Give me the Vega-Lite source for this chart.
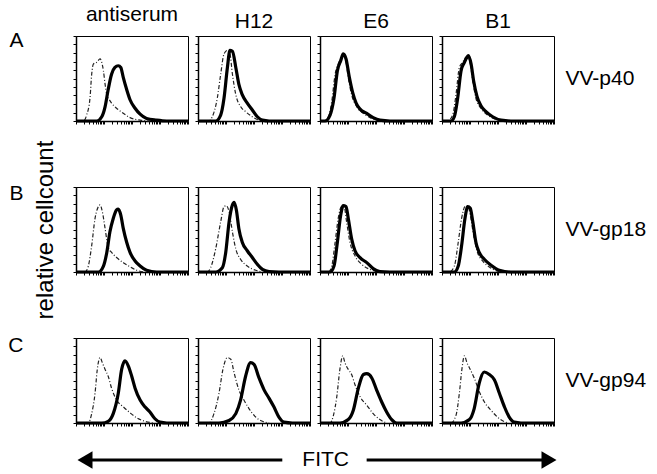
{
"$schema": "https://vega.github.io/schema/vega-lite/v6.json",
"padding": {"left": 7, "top": 3, "right": 5, "bottom": 5},
"config": {
  "font": "Liberation Sans",
  "view": {"stroke": "black", "strokeWidth": 1},
  "axis": {"domainColor": "black", "domainWidth": 1.5, "tickColor": "black", "tickWidth": 1, "grid": false, "labels": false, "titleFontWeight": "normal", "titleColor": "black", "titleFontSize": 21, "minExtent": 0},
  "title": {"fontSize": 21, "fontWeight": "normal", "color": "black", "offset": 4}
},
"data": {"values": [
{"r":"A","c":"antiserum","s":"control","x":0,"y":0},{"r":"A","c":"antiserum","s":"control","x":0.26,"y":0},{"r":"A","c":"antiserum","s":"control","x":0.38,"y":7},{"r":"A","c":"antiserum","s":"control","x":0.5,"y":27},{"r":"A","c":"antiserum","s":"control","x":0.56,"y":55},{"r":"A","c":"antiserum","s":"control","x":0.62,"y":67},{"r":"A","c":"antiserum","s":"control","x":0.74,"y":69},{"r":"A","c":"antiserum","s":"control","x":0.86,"y":73},{"r":"A","c":"antiserum","s":"control","x":0.92,"y":69},{"r":"A","c":"antiserum","s":"control","x":0.98,"y":59},{"r":"A","c":"antiserum","s":"control","x":1.04,"y":43},{"r":"A","c":"antiserum","s":"control","x":1.1,"y":31},{"r":"A","c":"antiserum","s":"control","x":1.19,"y":25},{"r":"A","c":"antiserum","s":"control","x":1.27,"y":21},{"r":"A","c":"antiserum","s":"control","x":1.45,"y":15},{"r":"A","c":"antiserum","s":"control","x":1.69,"y":9},{"r":"A","c":"antiserum","s":"control","x":1.93,"y":4},{"r":"A","c":"antiserum","s":"control","x":2.29,"y":1},{"r":"A","c":"antiserum","s":"control","x":2.64,"y":0},
{"r":"A","c":"antiserum","s":"sample","x":0,"y":0},{"r":"A","c":"antiserum","s":"sample","x":0.74,"y":0},{"r":"A","c":"antiserum","s":"sample","x":0.92,"y":5},{"r":"A","c":"antiserum","s":"sample","x":1.04,"y":17},{"r":"A","c":"antiserum","s":"sample","x":1.15,"y":37},{"r":"A","c":"antiserum","s":"sample","x":1.27,"y":55},{"r":"A","c":"antiserum","s":"sample","x":1.39,"y":63},{"r":"A","c":"antiserum","s":"sample","x":1.51,"y":65},{"r":"A","c":"antiserum","s":"sample","x":1.6,"y":63},{"r":"A","c":"antiserum","s":"sample","x":1.69,"y":51},{"r":"A","c":"antiserum","s":"sample","x":1.81,"y":37},{"r":"A","c":"antiserum","s":"sample","x":1.93,"y":25},{"r":"A","c":"antiserum","s":"sample","x":2.11,"y":15},{"r":"A","c":"antiserum","s":"sample","x":2.29,"y":8},{"r":"A","c":"antiserum","s":"sample","x":2.52,"y":3},{"r":"A","c":"antiserum","s":"sample","x":2.88,"y":1},{"r":"A","c":"antiserum","s":"sample","x":3.24,"y":0},{"r":"A","c":"antiserum","s":"sample","x":4,"y":0},
{"r":"A","c":"H12","s":"control","x":0,"y":0},{"r":"A","c":"H12","s":"control","x":0.39,"y":0},{"r":"A","c":"H12","s":"control","x":0.51,"y":5},{"r":"A","c":"H12","s":"control","x":0.69,"y":27},{"r":"A","c":"H12","s":"control","x":0.81,"y":55},{"r":"A","c":"H12","s":"control","x":0.93,"y":79},{"r":"A","c":"H12","s":"control","x":1.05,"y":83},{"r":"A","c":"H12","s":"control","x":1.14,"y":79},{"r":"A","c":"H12","s":"control","x":1.23,"y":55},{"r":"A","c":"H12","s":"control","x":1.35,"y":31},{"r":"A","c":"H12","s":"control","x":1.52,"y":17},{"r":"A","c":"H12","s":"control","x":1.7,"y":11},{"r":"A","c":"H12","s":"control","x":1.94,"y":5},{"r":"A","c":"H12","s":"control","x":2.18,"y":1},{"r":"A","c":"H12","s":"control","x":2.42,"y":0},
{"r":"A","c":"H12","s":"sample","x":0,"y":0},{"r":"A","c":"H12","s":"sample","x":0.63,"y":0},{"r":"A","c":"H12","s":"sample","x":0.81,"y":7},{"r":"A","c":"H12","s":"sample","x":0.93,"y":27},{"r":"A","c":"H12","s":"sample","x":1.05,"y":63},{"r":"A","c":"H12","s":"sample","x":1.14,"y":83},{"r":"A","c":"H12","s":"sample","x":1.23,"y":82},{"r":"A","c":"H12","s":"sample","x":1.35,"y":63},{"r":"A","c":"H12","s":"sample","x":1.46,"y":43},{"r":"A","c":"H12","s":"sample","x":1.58,"y":31},{"r":"A","c":"H12","s":"sample","x":1.76,"y":21},{"r":"A","c":"H12","s":"sample","x":1.94,"y":13},{"r":"A","c":"H12","s":"sample","x":2.12,"y":5},{"r":"A","c":"H12","s":"sample","x":2.3,"y":1},{"r":"A","c":"H12","s":"sample","x":2.54,"y":0},{"r":"A","c":"H12","s":"sample","x":4,"y":0},
{"r":"A","c":"E6","s":"control","x":0,"y":0},{"r":"A","c":"E6","s":"control","x":0.12,"y":0},{"r":"A","c":"E6","s":"control","x":0.3,"y":5},{"r":"A","c":"E6","s":"control","x":0.42,"y":23},{"r":"A","c":"E6","s":"control","x":0.54,"y":55},{"r":"A","c":"E6","s":"control","x":0.65,"y":67},{"r":"A","c":"E6","s":"control","x":0.77,"y":75},{"r":"A","c":"E6","s":"control","x":0.83,"y":78},{"r":"A","c":"E6","s":"control","x":0.92,"y":71},{"r":"A","c":"E6","s":"control","x":1.01,"y":51},{"r":"A","c":"E6","s":"control","x":1.13,"y":31},{"r":"A","c":"E6","s":"control","x":1.31,"y":17},{"r":"A","c":"E6","s":"control","x":1.55,"y":9},{"r":"A","c":"E6","s":"control","x":1.85,"y":3},{"r":"A","c":"E6","s":"control","x":2.14,"y":0.4},{"r":"A","c":"E6","s":"control","x":2.38,"y":0},
{"r":"A","c":"E6","s":"sample","x":0,"y":0},{"r":"A","c":"E6","s":"sample","x":0.18,"y":0},{"r":"A","c":"E6","s":"sample","x":0.36,"y":7},{"r":"A","c":"E6","s":"sample","x":0.5,"y":27},{"r":"A","c":"E6","s":"sample","x":0.62,"y":59},{"r":"A","c":"E6","s":"sample","x":0.74,"y":71},{"r":"A","c":"E6","s":"sample","x":0.83,"y":79},{"r":"A","c":"E6","s":"sample","x":0.93,"y":73},{"r":"A","c":"E6","s":"sample","x":1.05,"y":51},{"r":"A","c":"E6","s":"sample","x":1.17,"y":33},{"r":"A","c":"E6","s":"sample","x":1.29,"y":21},{"r":"A","c":"E6","s":"sample","x":1.43,"y":14},{"r":"A","c":"E6","s":"sample","x":1.67,"y":9},{"r":"A","c":"E6","s":"sample","x":1.9,"y":4},{"r":"A","c":"E6","s":"sample","x":2.14,"y":1},{"r":"A","c":"E6","s":"sample","x":2.5,"y":0},{"r":"A","c":"E6","s":"sample","x":4,"y":0},
{"r":"A","c":"B1","s":"control","x":0,"y":0},{"r":"A","c":"B1","s":"control","x":0.2,"y":0},{"r":"A","c":"B1","s":"control","x":0.38,"y":7},{"r":"A","c":"B1","s":"control","x":0.5,"y":31},{"r":"A","c":"B1","s":"control","x":0.62,"y":63},{"r":"A","c":"B1","s":"control","x":0.74,"y":69},{"r":"A","c":"B1","s":"control","x":0.86,"y":75},{"r":"A","c":"B1","s":"control","x":0.94,"y":75},{"r":"A","c":"B1","s":"control","x":1.01,"y":67},{"r":"A","c":"B1","s":"control","x":1.1,"y":47},{"r":"A","c":"B1","s":"control","x":1.21,"y":27},{"r":"A","c":"B1","s":"control","x":1.39,"y":15},{"r":"A","c":"B1","s":"control","x":1.63,"y":7},{"r":"A","c":"B1","s":"control","x":1.93,"y":2},{"r":"A","c":"B1","s":"control","x":2.23,"y":0},
{"r":"A","c":"B1","s":"sample","x":0,"y":0},{"r":"A","c":"B1","s":"sample","x":0.32,"y":0},{"r":"A","c":"B1","s":"sample","x":0.44,"y":5},{"r":"A","c":"B1","s":"sample","x":0.56,"y":27},{"r":"A","c":"B1","s":"sample","x":0.68,"y":59},{"r":"A","c":"B1","s":"sample","x":0.8,"y":69},{"r":"A","c":"B1","s":"sample","x":0.89,"y":75},{"r":"A","c":"B1","s":"sample","x":0.94,"y":77},{"r":"A","c":"B1","s":"sample","x":1.04,"y":67},{"r":"A","c":"B1","s":"sample","x":1.13,"y":47},{"r":"A","c":"B1","s":"sample","x":1.25,"y":29},{"r":"A","c":"B1","s":"sample","x":1.39,"y":18},{"r":"A","c":"B1","s":"sample","x":1.57,"y":11},{"r":"A","c":"B1","s":"sample","x":1.81,"y":5},{"r":"A","c":"B1","s":"sample","x":2.11,"y":1},{"r":"A","c":"B1","s":"sample","x":2.46,"y":0},{"r":"A","c":"B1","s":"sample","x":4,"y":0},
{"r":"B","c":"antiserum","s":"control","x":0,"y":0},{"r":"B","c":"antiserum","s":"control","x":0.32,"y":0},{"r":"B","c":"antiserum","s":"control","x":0.44,"y":7},{"r":"B","c":"antiserum","s":"control","x":0.56,"y":31},{"r":"B","c":"antiserum","s":"control","x":0.68,"y":63},{"r":"B","c":"antiserum","s":"control","x":0.8,"y":77},{"r":"B","c":"antiserum","s":"control","x":0.86,"y":79},{"r":"B","c":"antiserum","s":"control","x":0.94,"y":71},{"r":"B","c":"antiserum","s":"control","x":1.04,"y":51},{"r":"B","c":"antiserum","s":"control","x":1.15,"y":29},{"r":"B","c":"antiserum","s":"control","x":1.27,"y":23},{"r":"B","c":"antiserum","s":"control","x":1.45,"y":17},{"r":"B","c":"antiserum","s":"control","x":1.69,"y":11},{"r":"B","c":"antiserum","s":"control","x":1.93,"y":6},{"r":"B","c":"antiserum","s":"control","x":2.17,"y":2},{"r":"B","c":"antiserum","s":"control","x":2.46,"y":0},
{"r":"B","c":"antiserum","s":"sample","x":0,"y":0},{"r":"B","c":"antiserum","s":"sample","x":0.8,"y":0},{"r":"B","c":"antiserum","s":"sample","x":0.98,"y":7},{"r":"B","c":"antiserum","s":"sample","x":1.1,"y":23},{"r":"B","c":"antiserum","s":"sample","x":1.21,"y":47},{"r":"B","c":"antiserum","s":"sample","x":1.33,"y":63},{"r":"B","c":"antiserum","s":"sample","x":1.45,"y":73},{"r":"B","c":"antiserum","s":"sample","x":1.51,"y":74},{"r":"B","c":"antiserum","s":"sample","x":1.6,"y":67},{"r":"B","c":"antiserum","s":"sample","x":1.69,"y":51},{"r":"B","c":"antiserum","s":"sample","x":1.81,"y":35},{"r":"B","c":"antiserum","s":"sample","x":1.93,"y":23},{"r":"B","c":"antiserum","s":"sample","x":2.11,"y":13},{"r":"B","c":"antiserum","s":"sample","x":2.29,"y":7},{"r":"B","c":"antiserum","s":"sample","x":2.52,"y":2},{"r":"B","c":"antiserum","s":"sample","x":2.88,"y":0},{"r":"B","c":"antiserum","s":"sample","x":4,"y":0},
{"r":"B","c":"H12","s":"control","x":0,"y":0},{"r":"B","c":"H12","s":"control","x":0.33,"y":0},{"r":"B","c":"H12","s":"control","x":0.45,"y":5},{"r":"B","c":"H12","s":"control","x":0.63,"y":27},{"r":"B","c":"H12","s":"control","x":0.81,"y":59},{"r":"B","c":"H12","s":"control","x":0.93,"y":77},{"r":"B","c":"H12","s":"control","x":1.01,"y":78},{"r":"B","c":"H12","s":"control","x":1.11,"y":71},{"r":"B","c":"H12","s":"control","x":1.23,"y":47},{"r":"B","c":"H12","s":"control","x":1.35,"y":27},{"r":"B","c":"H12","s":"control","x":1.52,"y":15},{"r":"B","c":"H12","s":"control","x":1.76,"y":7},{"r":"B","c":"H12","s":"control","x":2.06,"y":2},{"r":"B","c":"H12","s":"control","x":2.3,"y":0},
{"r":"B","c":"H12","s":"sample","x":0,"y":0},{"r":"B","c":"H12","s":"sample","x":0.63,"y":0},{"r":"B","c":"H12","s":"sample","x":0.87,"y":5},{"r":"B","c":"H12","s":"sample","x":0.99,"y":23},{"r":"B","c":"H12","s":"sample","x":1.11,"y":59},{"r":"B","c":"H12","s":"sample","x":1.23,"y":79},{"r":"B","c":"H12","s":"sample","x":1.29,"y":82},{"r":"B","c":"H12","s":"sample","x":1.37,"y":73},{"r":"B","c":"H12","s":"sample","x":1.46,"y":51},{"r":"B","c":"H12","s":"sample","x":1.58,"y":35},{"r":"B","c":"H12","s":"sample","x":1.76,"y":25},{"r":"B","c":"H12","s":"sample","x":1.94,"y":17},{"r":"B","c":"H12","s":"sample","x":2.12,"y":9},{"r":"B","c":"H12","s":"sample","x":2.3,"y":3},{"r":"B","c":"H12","s":"sample","x":2.54,"y":0.4},{"r":"B","c":"H12","s":"sample","x":2.89,"y":0},{"r":"B","c":"H12","s":"sample","x":4,"y":0},
{"r":"B","c":"E6","s":"control","x":0,"y":0},{"r":"B","c":"E6","s":"control","x":0.3,"y":0},{"r":"B","c":"E6","s":"control","x":0.42,"y":7},{"r":"B","c":"E6","s":"control","x":0.54,"y":35},{"r":"B","c":"E6","s":"control","x":0.65,"y":63},{"r":"B","c":"E6","s":"control","x":0.77,"y":77},{"r":"B","c":"E6","s":"control","x":0.86,"y":77},{"r":"B","c":"E6","s":"control","x":0.95,"y":59},{"r":"B","c":"E6","s":"control","x":1.07,"y":35},{"r":"B","c":"E6","s":"control","x":1.25,"y":19},{"r":"B","c":"E6","s":"control","x":1.49,"y":9},{"r":"B","c":"E6","s":"control","x":1.79,"y":3},{"r":"B","c":"E6","s":"control","x":2.14,"y":0},
{"r":"B","c":"E6","s":"sample","x":0,"y":0},{"r":"B","c":"E6","s":"sample","x":0.36,"y":0},{"r":"B","c":"E6","s":"sample","x":0.5,"y":7},{"r":"B","c":"E6","s":"sample","x":0.62,"y":35},{"r":"B","c":"E6","s":"sample","x":0.74,"y":67},{"r":"B","c":"E6","s":"sample","x":0.83,"y":78},{"r":"B","c":"E6","s":"sample","x":0.93,"y":77},{"r":"B","c":"E6","s":"sample","x":1.01,"y":63},{"r":"B","c":"E6","s":"sample","x":1.13,"y":39},{"r":"B","c":"E6","s":"sample","x":1.25,"y":25},{"r":"B","c":"E6","s":"sample","x":1.43,"y":17},{"r":"B","c":"E6","s":"sample","x":1.67,"y":11},{"r":"B","c":"E6","s":"sample","x":1.9,"y":4},{"r":"B","c":"E6","s":"sample","x":2.14,"y":0.4},{"r":"B","c":"E6","s":"sample","x":2.5,"y":0},{"r":"B","c":"E6","s":"sample","x":4,"y":0},
{"r":"B","c":"B1","s":"control","x":0,"y":0},{"r":"B","c":"B1","s":"control","x":0.26,"y":0},{"r":"B","c":"B1","s":"control","x":0.44,"y":7},{"r":"B","c":"B1","s":"control","x":0.58,"y":35},{"r":"B","c":"B1","s":"control","x":0.7,"y":63},{"r":"B","c":"B1","s":"control","x":0.82,"y":77},{"r":"B","c":"B1","s":"control","x":0.92,"y":78},{"r":"B","c":"B1","s":"control","x":1.01,"y":67},{"r":"B","c":"B1","s":"control","x":1.13,"y":43},{"r":"B","c":"B1","s":"control","x":1.27,"y":23},{"r":"B","c":"B1","s":"control","x":1.45,"y":13},{"r":"B","c":"B1","s":"control","x":1.69,"y":6},{"r":"B","c":"B1","s":"control","x":1.99,"y":1},{"r":"B","c":"B1","s":"control","x":2.23,"y":0},
{"r":"B","c":"B1","s":"sample","x":0,"y":0},{"r":"B","c":"B1","s":"sample","x":0.44,"y":0},{"r":"B","c":"B1","s":"sample","x":0.58,"y":7},{"r":"B","c":"B1","s":"sample","x":0.7,"y":31},{"r":"B","c":"B1","s":"sample","x":0.82,"y":63},{"r":"B","c":"B1","s":"sample","x":0.92,"y":77},{"r":"B","c":"B1","s":"sample","x":1.01,"y":75},{"r":"B","c":"B1","s":"sample","x":1.1,"y":59},{"r":"B","c":"B1","s":"sample","x":1.21,"y":35},{"r":"B","c":"B1","s":"sample","x":1.33,"y":23},{"r":"B","c":"B1","s":"sample","x":1.51,"y":15},{"r":"B","c":"B1","s":"sample","x":1.75,"y":8},{"r":"B","c":"B1","s":"sample","x":2.05,"y":2},{"r":"B","c":"B1","s":"sample","x":2.46,"y":0},{"r":"B","c":"B1","s":"sample","x":4,"y":0},
{"r":"C","c":"antiserum","s":"control","x":0,"y":0},{"r":"C","c":"antiserum","s":"control","x":0.44,"y":0},{"r":"C","c":"antiserum","s":"control","x":0.56,"y":11},{"r":"C","c":"antiserum","s":"control","x":0.68,"y":35},{"r":"C","c":"antiserum","s":"control","x":0.76,"y":63},{"r":"C","c":"antiserum","s":"control","x":0.86,"y":77},{"r":"C","c":"antiserum","s":"control","x":0.94,"y":71},{"r":"C","c":"antiserum","s":"control","x":1.04,"y":63},{"r":"C","c":"antiserum","s":"control","x":1.15,"y":55},{"r":"C","c":"antiserum","s":"control","x":1.27,"y":41},{"r":"C","c":"antiserum","s":"control","x":1.45,"y":27},{"r":"C","c":"antiserum","s":"control","x":1.69,"y":19},{"r":"C","c":"antiserum","s":"control","x":1.93,"y":12},{"r":"C","c":"antiserum","s":"control","x":2.17,"y":6},{"r":"C","c":"antiserum","s":"control","x":2.46,"y":2},{"r":"C","c":"antiserum","s":"control","x":2.76,"y":0},
{"r":"C","c":"antiserum","s":"sample","x":0,"y":0},{"r":"C","c":"antiserum","s":"sample","x":0.92,"y":0},{"r":"C","c":"antiserum","s":"sample","x":1.15,"y":2},{"r":"C","c":"antiserum","s":"sample","x":1.33,"y":11},{"r":"C","c":"antiserum","s":"sample","x":1.51,"y":35},{"r":"C","c":"antiserum","s":"sample","x":1.63,"y":63},{"r":"C","c":"antiserum","s":"sample","x":1.75,"y":73},{"r":"C","c":"antiserum","s":"sample","x":1.87,"y":67},{"r":"C","c":"antiserum","s":"sample","x":1.99,"y":55},{"r":"C","c":"antiserum","s":"sample","x":2.11,"y":41},{"r":"C","c":"antiserum","s":"sample","x":2.29,"y":27},{"r":"C","c":"antiserum","s":"sample","x":2.46,"y":19},{"r":"C","c":"antiserum","s":"sample","x":2.64,"y":13},{"r":"C","c":"antiserum","s":"sample","x":2.82,"y":5},{"r":"C","c":"antiserum","s":"sample","x":3.0,"y":1},{"r":"C","c":"antiserum","s":"sample","x":3.24,"y":0},{"r":"C","c":"antiserum","s":"sample","x":4,"y":0},
{"r":"C","c":"H12","s":"control","x":0,"y":0},{"r":"C","c":"H12","s":"control","x":0.39,"y":0},{"r":"C","c":"H12","s":"control","x":0.57,"y":11},{"r":"C","c":"H12","s":"control","x":0.75,"y":35},{"r":"C","c":"H12","s":"control","x":0.89,"y":63},{"r":"C","c":"H12","s":"control","x":1.05,"y":77},{"r":"C","c":"H12","s":"control","x":1.17,"y":75},{"r":"C","c":"H12","s":"control","x":1.29,"y":59},{"r":"C","c":"H12","s":"control","x":1.46,"y":39},{"r":"C","c":"H12","s":"control","x":1.64,"y":27},{"r":"C","c":"H12","s":"control","x":1.82,"y":17},{"r":"C","c":"H12","s":"control","x":2.06,"y":7},{"r":"C","c":"H12","s":"control","x":2.3,"y":2},{"r":"C","c":"H12","s":"control","x":2.54,"y":0},
{"r":"C","c":"H12","s":"sample","x":0,"y":0},{"r":"C","c":"H12","s":"sample","x":0.75,"y":0},{"r":"C","c":"H12","s":"sample","x":1.11,"y":3},{"r":"C","c":"H12","s":"sample","x":1.35,"y":11},{"r":"C","c":"H12","s":"sample","x":1.52,"y":27},{"r":"C","c":"H12","s":"sample","x":1.7,"y":55},{"r":"C","c":"H12","s":"sample","x":1.88,"y":71},{"r":"C","c":"H12","s":"sample","x":2.0,"y":69},{"r":"C","c":"H12","s":"sample","x":2.18,"y":53},{"r":"C","c":"H12","s":"sample","x":2.36,"y":39},{"r":"C","c":"H12","s":"sample","x":2.54,"y":29},{"r":"C","c":"H12","s":"sample","x":2.71,"y":19},{"r":"C","c":"H12","s":"sample","x":2.89,"y":7},{"r":"C","c":"H12","s":"sample","x":3.07,"y":1},{"r":"C","c":"H12","s":"sample","x":3.37,"y":0},{"r":"C","c":"H12","s":"sample","x":4,"y":0},
{"r":"C","c":"E6","s":"control","x":0,"y":0},{"r":"C","c":"E6","s":"control","x":0.36,"y":0},{"r":"C","c":"E6","s":"control","x":0.48,"y":9},{"r":"C","c":"E6","s":"control","x":0.6,"y":31},{"r":"C","c":"E6","s":"control","x":0.71,"y":63},{"r":"C","c":"E6","s":"control","x":0.81,"y":79},{"r":"C","c":"E6","s":"control","x":0.89,"y":71},{"r":"C","c":"E6","s":"control","x":1.01,"y":63},{"r":"C","c":"E6","s":"control","x":1.13,"y":57},{"r":"C","c":"E6","s":"control","x":1.25,"y":45},{"r":"C","c":"E6","s":"control","x":1.43,"y":31},{"r":"C","c":"E6","s":"control","x":1.67,"y":21},{"r":"C","c":"E6","s":"control","x":1.9,"y":11},{"r":"C","c":"E6","s":"control","x":2.14,"y":4},{"r":"C","c":"E6","s":"control","x":2.38,"y":0},
{"r":"C","c":"E6","s":"sample","x":0,"y":0},{"r":"C","c":"E6","s":"sample","x":0.71,"y":0},{"r":"C","c":"E6","s":"sample","x":1.01,"y":4},{"r":"C","c":"E6","s":"sample","x":1.19,"y":15},{"r":"C","c":"E6","s":"sample","x":1.37,"y":41},{"r":"C","c":"E6","s":"sample","x":1.55,"y":57},{"r":"C","c":"E6","s":"sample","x":1.67,"y":58},{"r":"C","c":"E6","s":"sample","x":1.85,"y":53},{"r":"C","c":"E6","s":"sample","x":2.02,"y":39},{"r":"C","c":"E6","s":"sample","x":2.2,"y":25},{"r":"C","c":"E6","s":"sample","x":2.38,"y":13},{"r":"C","c":"E6","s":"sample","x":2.56,"y":4},{"r":"C","c":"E6","s":"sample","x":2.74,"y":0},{"r":"C","c":"E6","s":"sample","x":4,"y":0},
{"r":"C","c":"B1","s":"control","x":0,"y":0},{"r":"C","c":"B1","s":"control","x":0.32,"y":0},{"r":"C","c":"B1","s":"control","x":0.5,"y":9},{"r":"C","c":"B1","s":"control","x":0.62,"y":35},{"r":"C","c":"B1","s":"control","x":0.71,"y":63},{"r":"C","c":"B1","s":"control","x":0.8,"y":79},{"r":"C","c":"B1","s":"control","x":0.89,"y":71},{"r":"C","c":"B1","s":"control","x":1.01,"y":63},{"r":"C","c":"B1","s":"control","x":1.15,"y":53},{"r":"C","c":"B1","s":"control","x":1.33,"y":37},{"r":"C","c":"B1","s":"control","x":1.51,"y":25},{"r":"C","c":"B1","s":"control","x":1.75,"y":15},{"r":"C","c":"B1","s":"control","x":2.05,"y":5},{"r":"C","c":"B1","s":"control","x":2.35,"y":0},
{"r":"C","c":"B1","s":"sample","x":0,"y":0},{"r":"C","c":"B1","s":"sample","x":0.68,"y":0},{"r":"C","c":"B1","s":"sample","x":0.98,"y":4},{"r":"C","c":"B1","s":"sample","x":1.15,"y":17},{"r":"C","c":"B1","s":"sample","x":1.33,"y":47},{"r":"C","c":"B1","s":"sample","x":1.51,"y":60},{"r":"C","c":"B1","s":"sample","x":1.69,"y":57},{"r":"C","c":"B1","s":"sample","x":1.87,"y":51},{"r":"C","c":"B1","s":"sample","x":2.05,"y":35},{"r":"C","c":"B1","s":"sample","x":2.23,"y":19},{"r":"C","c":"B1","s":"sample","x":2.4,"y":7},{"r":"C","c":"B1","s":"sample","x":2.58,"y":1},{"r":"C","c":"B1","s":"sample","x":2.82,"y":0},{"r":"C","c":"B1","s":"sample","x":4,"y":0}
]},
"spacing": 19,
"vconcat": [
{
"bounds": "flush",
"columns": 4,
"spacing": {"row": 66, "column": 10},
"concat": [
{"width":112,"height":85,"title":"antiserum","transform":[{"filter":"datum.r=='A' && datum.c=='antiserum'"}],
 "encoding":{"x":{"field":"x","type":"quantitative","scale":{"domain":[0,4],"nice":false,"zero":false},"axis":{"title":null,"tickSize":3,"values":[0,0.301,0.477,0.602,0.699,0.778,0.845,0.903,0.954,1,1.301,1.477,1.602,1.699,1.778,1.845,1.903,1.954,2,2.301,2.477,2.602,2.699,2.778,2.845,2.903,2.954,3,3.301,3.477,3.602,3.699,3.778,3.845,3.903,3.954,4]}},
  "y":{"field":"y","type":"quantitative","scale":{"domain":[0,100],"nice":false},"axis":{"tickSize":3,"values":[0,10,20,30,40,50,60,70,80,90,100],"title":"A","titleAngle":0,"titleAlign":"right","titleBaseline":"top","titleX":-53,"titleY":-7}}},
 "layer":[
  {"transform":[{"filter":"datum.s=='control'"}],"mark":{"type":"line","interpolate":"monotone","stroke":"#222","strokeWidth":1.2,"strokeDash":[4,2,1,2]}},
  {"transform":[{"filter":"datum.s=='sample'"}],"mark":{"type":"line","interpolate":"monotone","stroke":"black","strokeWidth":3.2}}
 ]},
{"width":112,"height":85,"title":"H12","transform":[{"filter":"datum.r=='A' && datum.c=='H12'"}],
 "encoding":{"x":{"field":"x","type":"quantitative","scale":{"domain":[0,4],"nice":false,"zero":false},"axis":{"title":null,"tickSize":3,"values":[0,0.301,0.477,0.602,0.699,0.778,0.845,0.903,0.954,1,1.301,1.477,1.602,1.699,1.778,1.845,1.903,1.954,2,2.301,2.477,2.602,2.699,2.778,2.845,2.903,2.954,3,3.301,3.477,3.602,3.699,3.778,3.845,3.903,3.954,4]}},
  "y":{"field":"y","type":"quantitative","scale":{"domain":[0,100],"nice":false},"axis":{"tickSize":3,"values":[0,10,20,30,40,50,60,70,80,90,100],"title":null}}},
 "layer":[
  {"transform":[{"filter":"datum.s=='control'"}],"mark":{"type":"line","interpolate":"monotone","stroke":"#222","strokeWidth":1.2,"strokeDash":[4,2,1,2]}},
  {"transform":[{"filter":"datum.s=='sample'"}],"mark":{"type":"line","interpolate":"monotone","stroke":"black","strokeWidth":3.2}}
 ]},
{"width":112,"height":85,"title":"E6","transform":[{"filter":"datum.r=='A' && datum.c=='E6'"}],
 "encoding":{"x":{"field":"x","type":"quantitative","scale":{"domain":[0,4],"nice":false,"zero":false},"axis":{"title":null,"tickSize":3,"values":[0,0.301,0.477,0.602,0.699,0.778,0.845,0.903,0.954,1,1.301,1.477,1.602,1.699,1.778,1.845,1.903,1.954,2,2.301,2.477,2.602,2.699,2.778,2.845,2.903,2.954,3,3.301,3.477,3.602,3.699,3.778,3.845,3.903,3.954,4]}},
  "y":{"field":"y","type":"quantitative","scale":{"domain":[0,100],"nice":false},"axis":{"tickSize":3,"values":[0,10,20,30,40,50,60,70,80,90,100],"title":null}}},
 "layer":[
  {"transform":[{"filter":"datum.s=='control'"}],"mark":{"type":"line","interpolate":"monotone","stroke":"#222","strokeWidth":1.2,"strokeDash":[4,2,1,2]}},
  {"transform":[{"filter":"datum.s=='sample'"}],"mark":{"type":"line","interpolate":"monotone","stroke":"black","strokeWidth":3.2}}
 ]},
{"width":112,"height":85,"title":"B1","transform":[{"filter":"datum.r=='A' && datum.c=='B1'"}],
 "encoding":{"x":{"field":"x","type":"quantitative","scale":{"domain":[0,4],"nice":false,"zero":false},"axis":{"title":null,"tickSize":3,"values":[0,0.301,0.477,0.602,0.699,0.778,0.845,0.903,0.954,1,1.301,1.477,1.602,1.699,1.778,1.845,1.903,1.954,2,2.301,2.477,2.602,2.699,2.778,2.845,2.903,2.954,3,3.301,3.477,3.602,3.699,3.778,3.845,3.903,3.954,4]}},
  "y":{"field":"y","type":"quantitative","scale":{"domain":[0,100],"nice":false},"axis":{"tickSize":3,"values":[0,10,20,30,40,50,60,70,80,90,100],"title":null}}},
 "layer":[
  {"transform":[{"filter":"datum.s=='control'"}],"mark":{"type":"line","interpolate":"monotone","stroke":"#222","strokeWidth":1.2,"strokeDash":[4,2,1,2]}},
  {"transform":[{"filter":"datum.s=='sample'"}],"mark":{"type":"line","interpolate":"monotone","stroke":"black","strokeWidth":3.2},
   "encoding":{"y":{"field":"y","type":"quantitative","scale":{"domain":[0,100],"nice":false},"axis":{"orient":"right","domain":false,"ticks":false,"labels":false,"title":"VV-p40","titleAngle":0,"titleAlign":"left","titleBaseline":"middle","titlePadding":11}}}}
 ],
 "resolve":{"scale":{"y":"independent"}}},
{"width":112,"height":85,"transform":[{"filter":"datum.r=='B' && datum.c=='antiserum'"}],
 "encoding":{"x":{"field":"x","type":"quantitative","scale":{"domain":[0,4],"nice":false,"zero":false},"axis":{"title":null,"tickSize":3,"values":[0,0.301,0.477,0.602,0.699,0.778,0.845,0.903,0.954,1,1.301,1.477,1.602,1.699,1.778,1.845,1.903,1.954,2,2.301,2.477,2.602,2.699,2.778,2.845,2.903,2.954,3,3.301,3.477,3.602,3.699,3.778,3.845,3.903,3.954,4]}},
  "y":{"field":"y","type":"quantitative","scale":{"domain":[0,100],"nice":false},"axis":{"tickSize":3,"values":[0,10,20,30,40,50,60,70,80,90,100],"title":"B","titleAngle":0,"titleAlign":"right","titleBaseline":"top","titleX":-53,"titleY":-5}}},
 "layer":[
  {"transform":[{"filter":"datum.s=='control'"}],"mark":{"type":"line","interpolate":"monotone","stroke":"#222","strokeWidth":1.2,"strokeDash":[4,2,1,2]}},
  {"transform":[{"filter":"datum.s=='sample'"}],"mark":{"type":"line","interpolate":"monotone","stroke":"black","strokeWidth":3.2},
   "encoding":{"y":{"field":"y","type":"quantitative","scale":{"domain":[0,100],"nice":false},"axis":{"orient":"left","domain":false,"ticks":false,"labels":false,"title":"relative cellcount","titleFontSize":24,"titlePadding":19}}}}
 ],
 "resolve":{"scale":{"y":"independent"}}},
{"width":112,"height":85,"transform":[{"filter":"datum.r=='B' && datum.c=='H12'"}],
 "encoding":{"x":{"field":"x","type":"quantitative","scale":{"domain":[0,4],"nice":false,"zero":false},"axis":{"title":null,"tickSize":3,"values":[0,0.301,0.477,0.602,0.699,0.778,0.845,0.903,0.954,1,1.301,1.477,1.602,1.699,1.778,1.845,1.903,1.954,2,2.301,2.477,2.602,2.699,2.778,2.845,2.903,2.954,3,3.301,3.477,3.602,3.699,3.778,3.845,3.903,3.954,4]}},
  "y":{"field":"y","type":"quantitative","scale":{"domain":[0,100],"nice":false},"axis":{"tickSize":3,"values":[0,10,20,30,40,50,60,70,80,90,100],"title":null}}},
 "layer":[
  {"transform":[{"filter":"datum.s=='control'"}],"mark":{"type":"line","interpolate":"monotone","stroke":"#222","strokeWidth":1.2,"strokeDash":[4,2,1,2]}},
  {"transform":[{"filter":"datum.s=='sample'"}],"mark":{"type":"line","interpolate":"monotone","stroke":"black","strokeWidth":3.2}}
 ]},
{"width":112,"height":85,"transform":[{"filter":"datum.r=='B' && datum.c=='E6'"}],
 "encoding":{"x":{"field":"x","type":"quantitative","scale":{"domain":[0,4],"nice":false,"zero":false},"axis":{"title":null,"tickSize":3,"values":[0,0.301,0.477,0.602,0.699,0.778,0.845,0.903,0.954,1,1.301,1.477,1.602,1.699,1.778,1.845,1.903,1.954,2,2.301,2.477,2.602,2.699,2.778,2.845,2.903,2.954,3,3.301,3.477,3.602,3.699,3.778,3.845,3.903,3.954,4]}},
  "y":{"field":"y","type":"quantitative","scale":{"domain":[0,100],"nice":false},"axis":{"tickSize":3,"values":[0,10,20,30,40,50,60,70,80,90,100],"title":null}}},
 "layer":[
  {"transform":[{"filter":"datum.s=='control'"}],"mark":{"type":"line","interpolate":"monotone","stroke":"#222","strokeWidth":1.2,"strokeDash":[4,2,1,2]}},
  {"transform":[{"filter":"datum.s=='sample'"}],"mark":{"type":"line","interpolate":"monotone","stroke":"black","strokeWidth":3.2}}
 ]},
{"width":112,"height":85,"transform":[{"filter":"datum.r=='B' && datum.c=='B1'"}],
 "encoding":{"x":{"field":"x","type":"quantitative","scale":{"domain":[0,4],"nice":false,"zero":false},"axis":{"title":null,"tickSize":3,"values":[0,0.301,0.477,0.602,0.699,0.778,0.845,0.903,0.954,1,1.301,1.477,1.602,1.699,1.778,1.845,1.903,1.954,2,2.301,2.477,2.602,2.699,2.778,2.845,2.903,2.954,3,3.301,3.477,3.602,3.699,3.778,3.845,3.903,3.954,4]}},
  "y":{"field":"y","type":"quantitative","scale":{"domain":[0,100],"nice":false},"axis":{"tickSize":3,"values":[0,10,20,30,40,50,60,70,80,90,100],"title":null}}},
 "layer":[
  {"transform":[{"filter":"datum.s=='control'"}],"mark":{"type":"line","interpolate":"monotone","stroke":"#222","strokeWidth":1.2,"strokeDash":[4,2,1,2]}},
  {"transform":[{"filter":"datum.s=='sample'"}],"mark":{"type":"line","interpolate":"monotone","stroke":"black","strokeWidth":3.2},
   "encoding":{"y":{"field":"y","type":"quantitative","scale":{"domain":[0,100],"nice":false},"axis":{"orient":"right","domain":false,"ticks":false,"labels":false,"title":"VV-gp18","titleAngle":0,"titleAlign":"left","titleBaseline":"middle","titlePadding":11}}}}
 ],
 "resolve":{"scale":{"y":"independent"}}},
{"width":112,"height":85,"transform":[{"filter":"datum.r=='C' && datum.c=='antiserum'"}],
 "encoding":{"x":{"field":"x","type":"quantitative","scale":{"domain":[0,4],"nice":false,"zero":false},"axis":{"title":null,"tickSize":3,"values":[0,0.301,0.477,0.602,0.699,0.778,0.845,0.903,0.954,1,1.301,1.477,1.602,1.699,1.778,1.845,1.903,1.954,2,2.301,2.477,2.602,2.699,2.778,2.845,2.903,2.954,3,3.301,3.477,3.602,3.699,3.778,3.845,3.903,3.954,4]}},
  "y":{"field":"y","type":"quantitative","scale":{"domain":[0,100],"nice":false},"axis":{"tickSize":3,"values":[0,10,20,30,40,50,60,70,80,90,100],"title":"C","titleAngle":0,"titleAlign":"right","titleBaseline":"top","titleX":-53,"titleY":-4}}},
 "layer":[
  {"transform":[{"filter":"datum.s=='control'"}],"mark":{"type":"line","interpolate":"monotone","stroke":"#222","strokeWidth":1.2,"strokeDash":[4,2,1,2]}},
  {"transform":[{"filter":"datum.s=='sample'"}],"mark":{"type":"line","interpolate":"monotone","stroke":"black","strokeWidth":3.2}}
 ]},
{"width":112,"height":85,"transform":[{"filter":"datum.r=='C' && datum.c=='H12'"}],
 "encoding":{"x":{"field":"x","type":"quantitative","scale":{"domain":[0,4],"nice":false,"zero":false},"axis":{"title":null,"tickSize":3,"values":[0,0.301,0.477,0.602,0.699,0.778,0.845,0.903,0.954,1,1.301,1.477,1.602,1.699,1.778,1.845,1.903,1.954,2,2.301,2.477,2.602,2.699,2.778,2.845,2.903,2.954,3,3.301,3.477,3.602,3.699,3.778,3.845,3.903,3.954,4]}},
  "y":{"field":"y","type":"quantitative","scale":{"domain":[0,100],"nice":false},"axis":{"tickSize":3,"values":[0,10,20,30,40,50,60,70,80,90,100],"title":null}}},
 "layer":[
  {"transform":[{"filter":"datum.s=='control'"}],"mark":{"type":"line","interpolate":"monotone","stroke":"#222","strokeWidth":1.2,"strokeDash":[4,2,1,2]}},
  {"transform":[{"filter":"datum.s=='sample'"}],"mark":{"type":"line","interpolate":"monotone","stroke":"black","strokeWidth":3.2}}
 ]},
{"width":112,"height":85,"transform":[{"filter":"datum.r=='C' && datum.c=='E6'"}],
 "encoding":{"x":{"field":"x","type":"quantitative","scale":{"domain":[0,4],"nice":false,"zero":false},"axis":{"title":null,"tickSize":3,"values":[0,0.301,0.477,0.602,0.699,0.778,0.845,0.903,0.954,1,1.301,1.477,1.602,1.699,1.778,1.845,1.903,1.954,2,2.301,2.477,2.602,2.699,2.778,2.845,2.903,2.954,3,3.301,3.477,3.602,3.699,3.778,3.845,3.903,3.954,4]}},
  "y":{"field":"y","type":"quantitative","scale":{"domain":[0,100],"nice":false},"axis":{"tickSize":3,"values":[0,10,20,30,40,50,60,70,80,90,100],"title":null}}},
 "layer":[
  {"transform":[{"filter":"datum.s=='control'"}],"mark":{"type":"line","interpolate":"monotone","stroke":"#222","strokeWidth":1.2,"strokeDash":[4,2,1,2]}},
  {"transform":[{"filter":"datum.s=='sample'"}],"mark":{"type":"line","interpolate":"monotone","stroke":"black","strokeWidth":3.2}}
 ]},
{"width":112,"height":85,"transform":[{"filter":"datum.r=='C' && datum.c=='B1'"}],
 "encoding":{"x":{"field":"x","type":"quantitative","scale":{"domain":[0,4],"nice":false,"zero":false},"axis":{"title":null,"tickSize":3,"values":[0,0.301,0.477,0.602,0.699,0.778,0.845,0.903,0.954,1,1.301,1.477,1.602,1.699,1.778,1.845,1.903,1.954,2,2.301,2.477,2.602,2.699,2.778,2.845,2.903,2.954,3,3.301,3.477,3.602,3.699,3.778,3.845,3.903,3.954,4]}},
  "y":{"field":"y","type":"quantitative","scale":{"domain":[0,100],"nice":false},"axis":{"tickSize":3,"values":[0,10,20,30,40,50,60,70,80,90,100],"title":null}}},
 "layer":[
  {"transform":[{"filter":"datum.s=='control'"}],"mark":{"type":"line","interpolate":"monotone","stroke":"#222","strokeWidth":1.2,"strokeDash":[4,2,1,2]}},
  {"transform":[{"filter":"datum.s=='sample'"}],"mark":{"type":"line","interpolate":"monotone","stroke":"black","strokeWidth":3.2},
   "encoding":{"y":{"field":"y","type":"quantitative","scale":{"domain":[0,100],"nice":false},"axis":{"orient":"right","domain":false,"ticks":false,"labels":false,"title":"VV-gp94","titleAngle":0,"titleAlign":"left","titleBaseline":"middle","titlePadding":11}}}}
 ],
 "resolve":{"scale":{"y":"independent"}}}
]
},
{
"width": 482, "height": 20,
"view": {"stroke": null},
"data": {"values": [
  {"part":"shaft","x":0.02,"x2":0.428},
  {"part":"shaft","x":0.603,"x2":0.98},
  {"part":"headL","x":0},
  {"part":"headR","x":1},
  {"part":"label","x":0.518,"text":"FITC"}
]},
"encoding": {"x": {"field":"x","type":"quantitative","scale":{"domain":[0,1],"nice":false,"zero":false},"axis":null}},
"layer": [
  {"transform":[{"filter":"datum.part=='shaft'"}],"mark":{"type":"rule","strokeWidth":3,"color":"black"},"encoding":{"x2":{"field":"x2"}}},
  {"transform":[{"filter":"datum.part=='headL'"}],"mark":{"type":"point","shape":"triangle-left","size":300,"filled":true,"color":"black","opacity":1,"xOffset":9}},
  {"transform":[{"filter":"datum.part=='headR'"}],"mark":{"type":"point","shape":"triangle-right","size":300,"filled":true,"color":"black","opacity":1,"xOffset":-9}},
  {"transform":[{"filter":"datum.part=='label'"}],"mark":{"type":"text","fontSize":21,"align":"center","baseline":"middle","color":"black"},"encoding":{"text":{"field":"text"}}}
]
}
]
}
